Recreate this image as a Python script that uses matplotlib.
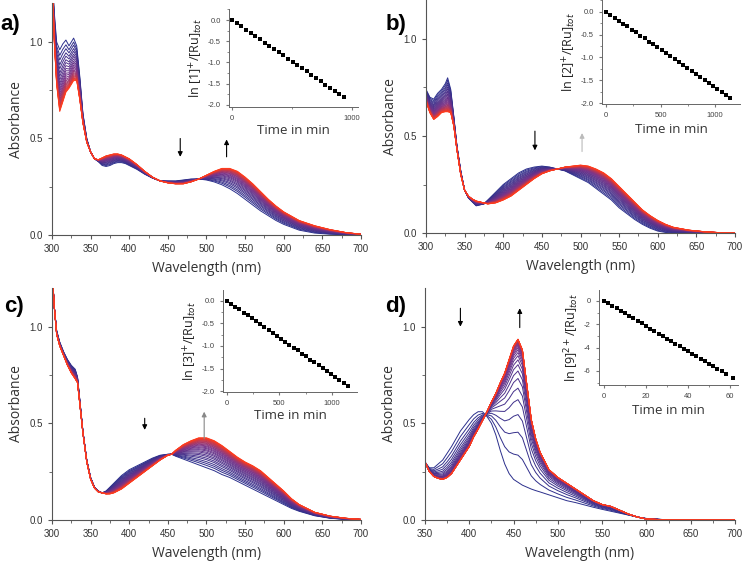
import numpy as np
import matplotlib
matplotlib.use("Agg")
import matplotlib.pyplot as plt
from matplotlib.colors import LinearSegmentedColormap
from matplotlib.ticker import MultipleLocator

plt.rcParams["font.family"] = ["Liberation Sans", "DejaVu Sans"]

# ---------------- spectra: first (blue) and last (red) traces ----------------
wl_a = [300, 303, 306, 310, 314, 318, 322, 325, 328, 332, 336, 340, 345, 350, 355,
        360, 365, 370, 375, 380, 385, 390, 395, 400, 410, 420, 430, 440, 450, 460,
        470, 480, 490, 500, 510, 520, 530, 540, 550, 560, 570, 580, 590, 600, 620,
        640, 660, 680, 700]
first_a = [1.35, 1.15, 1.0, 0.96, 0.99, 1.01, 0.98, 1.0, 1.02, 0.98, 0.82, 0.63, 0.5, 0.43, 0.395,
           0.38, 0.36, 0.355, 0.36, 0.37, 0.375, 0.375, 0.37, 0.36, 0.34, 0.315, 0.295, 0.28, 0.28, 0.28,
           0.285, 0.29, 0.29, 0.285, 0.275, 0.26, 0.24, 0.215, 0.185, 0.155, 0.125, 0.1, 0.075, 0.055, 0.025,
           0.01, 0.004, 0.001, 0.0]
last_a = [1.35, 1.0, 0.78, 0.64, 0.69, 0.74, 0.76, 0.78, 0.8, 0.8, 0.7, 0.58, 0.48, 0.43, 0.395,
          0.39, 0.4, 0.41, 0.415, 0.42, 0.42, 0.415, 0.405, 0.395, 0.365, 0.33, 0.3, 0.28, 0.27, 0.265,
          0.265, 0.275, 0.29, 0.31, 0.33, 0.345, 0.345, 0.33, 0.3, 0.265, 0.225, 0.185, 0.15, 0.12, 0.075,
          0.048, 0.028, 0.013, 0.004]

wl_b = [300, 305, 310, 315, 320, 325, 328, 332, 336, 340, 345, 350, 355, 360, 365, 370,
        375, 380, 390, 400, 410, 420, 430, 440, 450, 460, 470, 480, 490, 500, 510, 520,
        530, 540, 550, 560, 570, 580, 590, 600, 610, 620, 640, 660, 680, 700]
first_b = [0.74, 0.70, 0.69, 0.72, 0.74, 0.77, 0.80, 0.74, 0.6, 0.45, 0.32, 0.22, 0.18, 0.16, 0.14, 0.145,
           0.15, 0.17, 0.21, 0.25, 0.28, 0.31, 0.33, 0.34, 0.345, 0.34, 0.33, 0.32, 0.30, 0.28, 0.26, 0.23,
           0.20, 0.17, 0.13, 0.10, 0.07, 0.045, 0.025, 0.01, 0.003, 0.0, 0.0, 0.0, 0.0, 0.0]
last_b = [0.68, 0.62, 0.585, 0.6, 0.62, 0.625, 0.625, 0.62, 0.55, 0.43, 0.3, 0.22, 0.19, 0.175, 0.165, 0.16,
          0.155, 0.15, 0.155, 0.17, 0.19, 0.22, 0.25, 0.28, 0.305, 0.32, 0.33, 0.34, 0.345, 0.35, 0.345, 0.33,
          0.31, 0.28, 0.24, 0.2, 0.16, 0.12, 0.09, 0.065, 0.045, 0.03, 0.015, 0.007, 0.002, 0.0]

wl_c = [300, 303, 306, 310, 315, 320, 325, 330, 333, 336, 340, 345, 350, 355, 360, 365,
        370, 375, 380, 390, 400, 410, 420, 430, 440, 450, 455, 460, 470, 480, 490, 500,
        510, 520, 530, 540, 550, 560, 570, 580, 590, 600, 610, 620, 640, 660, 680, 700]
first_c = [1.3, 1.1, 0.98, 0.92, 0.87, 0.83, 0.8, 0.78, 0.74, 0.62, 0.46, 0.31, 0.22, 0.17, 0.15, 0.14,
           0.15, 0.17, 0.19, 0.23, 0.26, 0.28, 0.30, 0.32, 0.335, 0.34, 0.34, 0.33, 0.315, 0.3, 0.285, 0.27,
           0.255, 0.235, 0.22, 0.2, 0.18, 0.16, 0.14, 0.12, 0.1, 0.08, 0.06, 0.045, 0.022, 0.009, 0.003, 0.001]
last_c = [1.3, 1.1, 0.96, 0.9, 0.85, 0.8, 0.76, 0.73, 0.71, 0.6, 0.45, 0.3, 0.21, 0.165, 0.145, 0.14,
          0.135, 0.135, 0.14, 0.16, 0.19, 0.22, 0.25, 0.28, 0.31, 0.335, 0.34, 0.36, 0.39, 0.41, 0.425, 0.425,
          0.41, 0.385, 0.355, 0.325, 0.3, 0.28, 0.255, 0.22, 0.185, 0.15, 0.11, 0.08, 0.04, 0.02, 0.009, 0.003]

wl_d = [350, 355, 360, 365, 370, 375, 380, 390, 400, 405, 410, 415, 420, 425, 430, 435,
        440, 445, 450, 455, 460, 465, 470, 475, 480, 490, 500, 510, 520, 530, 540, 550,
        560, 570, 580, 590, 600, 620, 650, 700]
first_d = [0.3, 0.27, 0.27, 0.29, 0.31, 0.345, 0.38, 0.46, 0.52, 0.545, 0.56, 0.56, 0.535, 0.5, 0.44, 0.36,
           0.29, 0.24, 0.21, 0.195, 0.18, 0.17, 0.16, 0.152, 0.145, 0.13, 0.115, 0.1, 0.09, 0.078, 0.066, 0.055,
           0.045, 0.035, 0.025, 0.015, 0.008, 0.002, 0.0, 0.0]
last_d = [0.3, 0.25, 0.225, 0.215, 0.21, 0.22, 0.24, 0.31, 0.38, 0.43, 0.47, 0.515, 0.56, 0.61, 0.655, 0.71,
          0.76, 0.83, 0.9, 0.935, 0.88, 0.7, 0.52, 0.42, 0.35, 0.26, 0.22, 0.19, 0.16, 0.13, 0.1, 0.08,
          0.07, 0.05, 0.03, 0.015, 0.005, 0.001, 0.0, 0.0]

# ---------------- kinetics (insets) ----------------
t_a = [0, 39, 78, 117, 156, 194, 233, 272, 311, 350, 389, 428, 467, 506, 544, 583,
       622, 661, 700, 739, 778, 817, 856, 894, 933]
ln_a = [0, -0.08, -0.15, -0.23, -0.30, -0.38, -0.45, -0.53, -0.61, -0.68, -0.76, -0.83, -0.91,
        -0.99, -1.06, -1.14, -1.21, -1.29, -1.37, -1.44, -1.52, -1.59, -1.67, -1.74, -1.82]
t_b = [0, 39, 79, 118, 157, 197, 236, 275, 314, 354, 393, 432, 472, 511, 550, 590, 629,
       668, 708, 747, 786, 826, 865, 904, 943, 983, 1022, 1061, 1101, 1140]
ln_b = [0, -0.06, -0.13, -0.19, -0.26, -0.32, -0.39, -0.45, -0.52, -0.58, -0.65, -0.71, -0.78,
        -0.84, -0.91, -0.97, -1.04, -1.10, -1.17, -1.23, -1.30, -1.36, -1.43, -1.49, -1.56, -1.62,
        -1.69, -1.75, -1.82, -1.88]
t_c = [0, 40, 79, 119, 159, 198, 238, 278, 317, 357, 397, 436, 476, 516, 555, 595, 634,
       674, 714, 753, 793, 833, 872, 912, 952, 991, 1031, 1071, 1110, 1150]
ln_c = [0, -0.07, -0.13, -0.19, -0.26, -0.32, -0.39, -0.45, -0.52, -0.58, -0.65, -0.71, -0.78,
        -0.84, -0.91, -0.97, -1.04, -1.10, -1.17, -1.23, -1.30, -1.36, -1.43, -1.49, -1.56, -1.62,
        -1.69, -1.75, -1.81, -1.88]
t_d = [0, 2, 4, 6, 8, 10, 12, 14, 16, 18, 20, 22, 24, 26, 28, 30, 32, 34, 36, 38, 40, 42,
       44, 46, 48, 50, 52, 54, 56, 58, 61.5]
ln_d = [0, -0.21, -0.43, -0.64, -0.86, -1.07, -1.29, -1.50, -1.72, -1.93, -2.15, -2.36, -2.58,
        -2.79, -3.00, -3.22, -3.43, -3.65, -3.86, -4.08, -4.29, -4.51, -4.72, -4.94, -5.15, -5.37,
        -5.58, -5.79, -6.01, -6.22, -6.60]

cmap = LinearSegmentedColormap.from_list("br", ["#2b2f8c", "#7a3288", "#ff3b1c"])


def draw_spectra(ax, wl, first, last, lnk, xlim, arrows, letter, fig_xy):
    wl = np.array(wl)
    first = np.array(first)
    last = np.array(last)
    # each trace = mix of first and last spectrum, weighted by the measured conversion
    f = np.exp(np.array(lnk))
    w = (1 - f) / (1 - f[-1])
    n = len(w)
    for i in range(n):
        ax.plot(wl, (1 - w[i]) * first + w[i] * last, color=cmap(i / (n - 1)), lw=0.7)
    ax.set_xlim(*xlim)
    ax.set_ylim(0, 1.2)
    ax.spines["top"].set_visible(False)
    ax.spines["right"].set_visible(False)
    for s in ("left", "bottom"):
        ax.spines[s].set_color("#555555")
        ax.spines[s].set_linewidth(0.8)
    ax.xaxis.set_major_locator(MultipleLocator(50))
    ax.xaxis.set_minor_locator(MultipleLocator(25))
    ax.yaxis.set_major_locator(MultipleLocator(0.5))
    ax.yaxis.set_minor_locator(MultipleLocator(0.25))
    ax.yaxis.set_major_formatter(lambda v, p: f"{v:.1f}")
    ax.tick_params(which="both", direction="out", colors="#555555", labelsize=7,
                   labelcolor="#333333")
    ax.tick_params(which="major", length=3)
    ax.tick_params(which="minor", length=2)
    ax.set_xlabel("Wavelength (nm)", fontsize=10, family=["Open Sans", "DejaVu Sans"],
                  color="#333333", labelpad=5)
    ax.set_ylabel("Absorbance", fontsize=10, family=["Open Sans", "DejaVu Sans"],
                  color="#333333", labelpad=4)
    for x, y0, y1, c in arrows:
        ax.annotate("", xy=(x, y1), xytext=(x, y0),
                    arrowprops=dict(arrowstyle="-|>", color=c, lw=0.8,
                                    mutation_scale=7, shrinkA=0, shrinkB=0))
    fig.text(fig_xy[0], fig_xy[1], letter, fontsize=16, fontweight="bold",
             ha="left", va="top")


def draw_inset(rect, t, lnk, xlim, ylim, xmaj, xmin, ymaj, ymin, ylabel, yfmt, xpad=3):
    ax = fig.add_axes(rect)
    ax.plot(t, lnk, "s", color="black", ms=2.3, mew=0)
    ax.set_xlim(*xlim)
    ax.set_ylim(*ylim)
    ax.spines["top"].set_visible(False)
    ax.spines["right"].set_visible(False)
    for s in ("left", "bottom"):
        ax.spines[s].set_color("#666666")
        ax.spines[s].set_linewidth(0.7)
    ax.xaxis.set_major_locator(MultipleLocator(xmaj))
    ax.xaxis.set_minor_locator(MultipleLocator(xmin))
    ax.yaxis.set_major_locator(MultipleLocator(ymaj))
    ax.yaxis.set_minor_locator(MultipleLocator(ymin))
    ax.yaxis.set_major_formatter(lambda v, p: yfmt.format(v))
    ax.tick_params(which="both", direction="out", colors="#777777", labelsize=5.5,
                   labelcolor="#444444")
    ax.tick_params(which="major", length=2.5)
    ax.tick_params(which="minor", length=1.5)
    ax.set_xlabel("Time in min", fontsize=9.5, family=["Open Sans", "DejaVu Sans"],
                  color="#333333", labelpad=xpad)
    ax.set_ylabel(ylabel, fontsize=9, family=["Open Sans", "DejaVu Sans"],
                  color="#222222", labelpad=2)
    return ax


fig = plt.figure(figsize=(7.44, 5.63), dpi=100)

ax_a = fig.add_axes([0.0699, 0.5826, 0.4153, 0.4114])
ax_b = fig.add_axes([0.5726, 0.5861, 0.4153, 0.4136])
ax_c = fig.add_axes([0.0699, 0.0764, 0.4153, 0.4121])
ax_d = fig.add_axes([0.5712, 0.0764, 0.4167, 0.4121])

draw_spectra(ax_a, wl_a, first_a, last_a, ln_a, (300, 700),
             [(466, 0.50, 0.405, "black"), (526, 0.405, 0.495, "black")], "a)", (0.0, 0.975))
draw_spectra(ax_b, wl_b, first_b, last_b, ln_b, (300, 700),
             [(441, 0.525, 0.426, "black"), (502, 0.42, 0.515, "#bbbbbb")], "b)", (0.518, 0.975))
draw_spectra(ax_c, wl_c, first_c, last_c, ln_c, (300, 700),
             [(420, 0.526, 0.466, "black"), (497, 0.42, 0.56, "#888888")], "c)", (0.005, 0.475))
draw_spectra(ax_d, wl_d, first_d, last_d, ln_d, (350, 700),
             [(390, 1.095, 1.0, "black"), (457, 0.995, 1.095, "black")], "d)", (0.518, 0.475))

draw_inset([0.3078, 0.8099, 0.1734, 0.1741], t_a, ln_a, (-25, 1050), (-2.05, 0.26),
           1000, 500, 0.5, 0.25, r"ln [1]$^{+}$/[Ru]$_{tot}$", "{:.1f}", xpad=1)
draw_inset([0.8091, 0.8153, 0.1855, 0.1847], t_b, ln_b, (-37, 1229), (-2.02, 0.26),
           500, 250, 0.5, 0.25, r"ln [2]$^{+}$/[Ru]$_{tot}$", "{:.1f}")
draw_inset([0.2997, 0.3037, 0.1801, 0.1812], t_c, ln_c, (-38, 1238), (-2.02, 0.24),
           500, 250, 0.5, 0.25, r"ln [3]$^{+}$/[Ru]$_{tot}$", "{:.1f}", xpad=1.5)
draw_inset([0.8051, 0.3162, 0.1868, 0.1687], t_d, ln_d, (-2.4, 63.8), (-7.2, 0.94),
           20, 10, 2, 1, r"ln [9]$^{2+}$/[Ru]$_{tot}$", "{:.0f}")

fig.savefig("out.png", dpi=100)
